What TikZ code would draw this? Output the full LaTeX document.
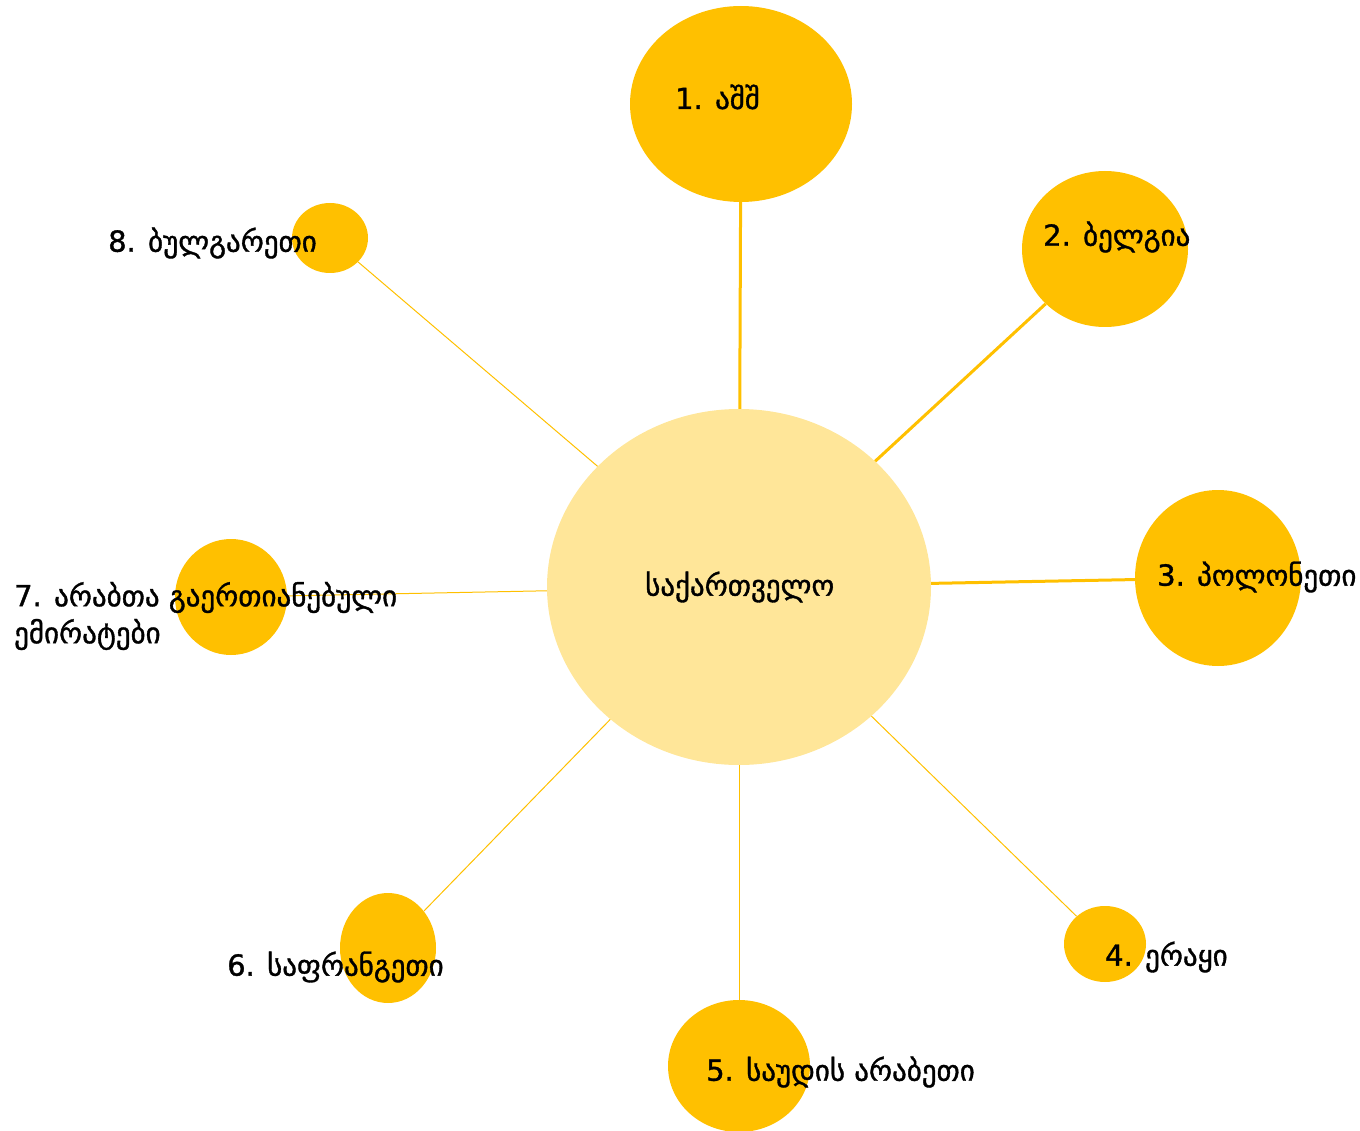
\documentclass[tikz,border=0pt]{standalone}
\usepackage{fontspec}
\newfontfamily\geo[FakeBold=1.2]{DejaVu Sans}
\usetikzlibrary{shapes.geometric}
\definecolor{gold}{HTML}{FFC000}
\definecolor{pale}{HTML}{FFE699}
\begin{document}
\begin{tikzpicture}[x=1pt,y=-1pt,
  bub/.style={ellipse,fill=gold,inner sep=0pt,minimum width=#1},
  lbl/.style={anchor=west,inner sep=0pt,font=\geo\fontsize{29}{37}\selectfont,align=left},
  thick link/.style={draw=gold,line width=3pt},
  thin link/.style={draw=gold,line width=1pt}]
\useasboundingbox (0,0) rectangle (1360,1131);
% bubbles
\node[ellipse,fill=pale,minimum width=384pt,minimum height=356pt,inner sep=0pt] (c) at (739,587) {};
\node[bub=222pt,minimum height=196pt] (n1) at (741,104) {};
\node[bub=166pt,minimum height=156pt] (n2) at (1105,249) {};
\node[bub=166pt,minimum height=176pt] (n3) at (1218,578) {};
\node[bub=82pt,minimum height=76pt] (n4) at (1105,944) {};
\node[bub=142pt,minimum height=132pt] (n5) at (739,1066) {};
\node[bub=96pt,minimum height=110pt] (n6) at (388,948) {};
\node[bub=112pt,minimum height=116pt] (n7) at (231,597) {};
\node[bub=76pt,minimum height=70pt] (n8) at (330,238) {};
% connectors
\path[thick link] (c) -- (n1);
\path[thick link] (c) -- (n2);
\path[thick link] (c) -- (n3);
\path[thin link] (c) -- (n4);
\path[thin link] (c) -- (n5);
\path[thin link] (c) -- (n6);
\path[thin link] (c) -- (n7);
\path[thin link] (c) -- (n8);
% labels
\node[lbl] (tc) at (645,587) {საქართველო};
\node[lbl] (t1) at (675,97) {1. აშშ};
\node[lbl] (t2) at (1043,237) {2. ბელგია};
\node[lbl] (t3) at (1157,577) {3. პოლონეთი};
\node[lbl] (t4) at (1105,957) {4. ერაყი};
\node[lbl] (t5) at (706,1072) {5. საუდის არაბეთი};
\node[lbl] (t6) at (227,967) {6. საფრანგეთი};
\node[lbl] (t7) at (14,616) {7. არაბთა გაერთიანებული\\ემირატები};
\node[lbl] (t8) at (108,243) {8. ბულგარეთი};
\end{tikzpicture}
\end{document}
